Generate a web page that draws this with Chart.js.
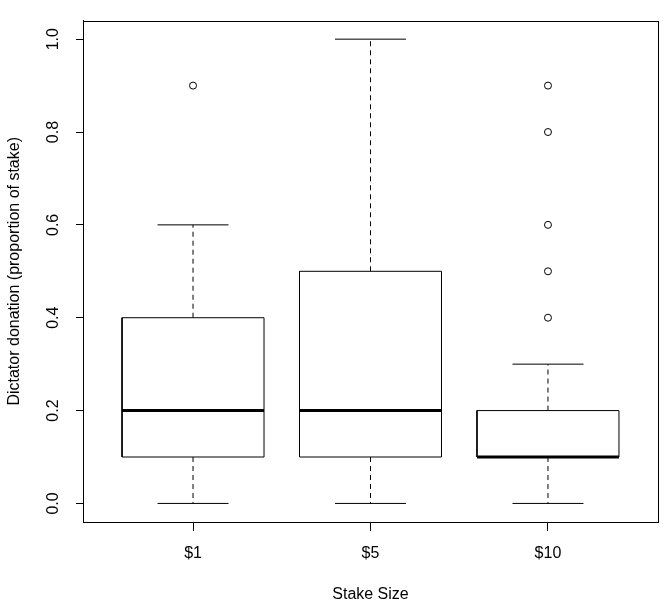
<!DOCTYPE html>
<html>
<head>
<meta charset="utf-8">
<script src="https://cdn.jsdelivr.net/npm/chart.js@4.4.1/dist/chart.umd.min.js"></script>
<style>
  html, body { margin: 0; padding: 0; background: #fff; }
  #wrap { width: 666px; height: 606px; }
</style>
</head>
<body>
<div id="wrap"><canvas id="box"></canvas></div>
<script>
// boxplot stats (proportion of stake)
const groups = ['$1', '$5', '$10'];
const lowWhisker = [0, 0, 0];
const q1 = [0.1, 0.1, 0.1];
const medians = [0.2, 0.2, 0.1];
const q3 = [0.4, 0.5, 0.2];
const highWhisker = [0.6, 1.0, 0.3];
const outliers = [[0.9], [], [0.4, 0.5, 0.6, 0.8, 0.9]];
const yTicks = [0, 0.2, 0.4, 0.6, 0.8, 1.0];

Chart.defaults.font.family = '"Liberation Sans", Arial, Helvetica, sans-serif';
Chart.defaults.color = '#000';

const BOX_HALF = 0.4;
const CAP_HALF = 0.2;

function seg(points, extra) {
    return Object.assign({
        data: points,
        showLine: true,
        borderColor: '#000',
        borderWidth: 1,
        pointRadius: 0,
        pointHoverRadius: 0,
        fill: false,
        tension: 0,
        borderJoinStyle: 'miter',
        clip: false
    }, extra || {});
}

const datasets = [];
groups.forEach((g, i) => {
    const x = i + 1;
    // median
    datasets.push(seg([{x: x - BOX_HALF, y: medians[i]}, {x: x + BOX_HALF, y: medians[i]}], {borderWidth: 3}));
    // box
    datasets.push(seg([
        {x: x - BOX_HALF, y: q1[i]}, {x: x + BOX_HALF, y: q1[i]},
        {x: x + BOX_HALF, y: q3[i]}, {x: x - BOX_HALF, y: q3[i]},
        {x: x - BOX_HALF, y: q1[i]}
    ]));
    // whiskers (dashed)
    datasets.push(seg([{x: x, y: q3[i]}, {x: x, y: highWhisker[i]}], {borderDash: [5, 4]}));
    datasets.push(seg([{x: x, y: q1[i]}, {x: x, y: lowWhisker[i]}], {borderDash: [5, 4]}));
    // caps
    datasets.push(seg([{x: x - CAP_HALF, y: highWhisker[i]}, {x: x + CAP_HALF, y: highWhisker[i]}]));
    datasets.push(seg([{x: x - CAP_HALF, y: lowWhisker[i]}, {x: x + CAP_HALF, y: lowWhisker[i]}]));
    // outliers
    if (outliers[i].length) {
        datasets.push({
            data: outliers[i].map(v => ({x: x, y: v})),
            showLine: false,
            pointRadius: 3.5,
            pointHoverRadius: 3.5,
            pointStyle: 'circle',
            pointBackgroundColor: '#fff',
            pointBorderColor: '#000',
            pointBorderWidth: 1
        });
    }
});

const framePlugin = {
    id: 'frame',
    afterDraw(chart) {
        const a = chart.chartArea;
        const ctx = chart.ctx;
        ctx.save();
        ctx.strokeStyle = '#000';
        ctx.lineWidth = 1;
        ctx.strokeRect(Math.round(a.left) + 0.5, Math.round(a.top) + 0.5,
            Math.round(a.right - a.left), Math.round(a.bottom - a.top));
        ctx.restore();
    }
};

new Chart(document.getElementById('box').getContext('2d'), {
    type: 'scatter',
    data: { datasets: datasets },
    options: {
        responsive: true,
        maintainAspectRatio: false,
        animation: false,
        events: [],
        layout: { padding: { top: 7, right: 8, left: 0, bottom: 0 } },
        plugins: {
            legend: { display: false },
            tooltip: { enabled: false }
        },
        scales: {
            x: {
                type: 'linear',
                min: 0.38,
                max: 3.62,
                afterBuildTicks: (s) => { s.ticks = groups.map((g, i) => ({ value: i + 1 })); },
                afterFit: (s) => { s.height = 84; },
                ticks: {
                    callback: (v, idx) => groups[idx],
                    font: { size: 16 },
                    color: '#000',
                    padding: 13,
                    maxRotation: 0,
                    autoSkip: false
                },
                grid: { display: true, drawOnChartArea: false, drawTicks: true, tickLength: 9, color: '#000' },
                border: { display: true, color: '#000', width: 1 },
                title: { display: true, text: 'Stake Size', font: { size: 16 }, color: '#000', padding: { top: 0, bottom: 2 } }
            },
            y: {
                type: 'linear',
                min: -0.04,
                max: 1.04,
                afterBuildTicks: (s) => { s.ticks = yTicks.map(v => ({ value: v })); },
                afterFit: (s) => { s.width = 83; },
                ticks: {
                    callback: (v) => Number(v).toFixed(1),
                    font: { size: 16 },
                    color: '#000',
                    padding: 11,
                    minRotation: 90,
                    maxRotation: 90,
                    crossAlign: 'center',
                    autoSkip: false
                },
                grid: { display: true, drawOnChartArea: false, drawTicks: true, tickLength: 7, color: '#000' },
                border: { display: true, color: '#000', width: 1 },
                title: { display: true, text: 'Dictator donation (proportion of stake)', font: { size: 16 }, color: '#000', padding: { top: 5, bottom: 0 } }
            }
        }
    },
    plugins: [framePlugin]
});
</script>
</body>
</html>
